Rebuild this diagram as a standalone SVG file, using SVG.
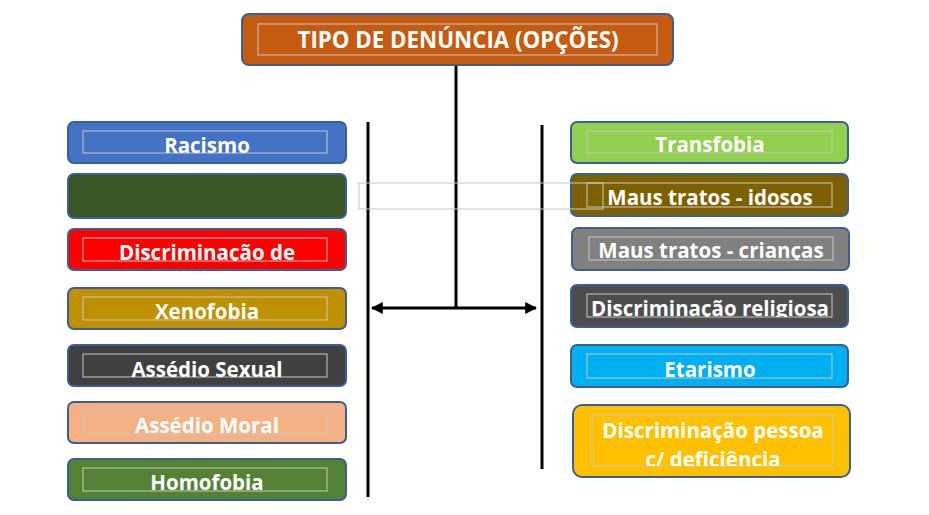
<svg xmlns="http://www.w3.org/2000/svg" width="929" height="515" viewBox="0 0 929 515">
<defs>
<style>
.box{stroke:#3A5E96;stroke-width:2}
.frame{fill:none;stroke:#C8C8C8;stroke-width:1}
.lbl{font-family:"Open Sans","Noto Sans","DejaVu Sans",sans-serif;font-weight:bold;font-size:20.5px;fill:#FFFFFF;text-anchor:middle}
.ln{stroke:#000;stroke-width:3;fill:none}
</style>
<marker id="ah" viewBox="0 0 10 10" refX="9" refY="5" markerWidth="4" markerHeight="4" orient="auto-start-reverse" markerUnits="strokeWidth">
<path d="M0,0 L10,5 L0,10 z" fill="#000"/>
</marker>
<clipPath id="c1"><rect x="83" y="131" width="244" height="22"/></clipPath>
<clipPath id="c3"><rect x="83" y="238" width="244" height="23"/></clipPath>
<clipPath id="c4"><rect x="83" y="297" width="244" height="23"/></clipPath>
<clipPath id="c5"><rect x="83" y="354" width="244" height="23"/></clipPath>
<clipPath id="c6"><rect x="83" y="411" width="244" height="23"/></clipPath>
<clipPath id="c7"><rect x="83" y="468" width="244" height="23"/></clipPath>
<clipPath id="r1"><rect x="587" y="131" width="245" height="22"/></clipPath>
<clipPath id="r2"><rect x="587" y="183" width="245" height="24"/></clipPath>
<clipPath id="r3"><rect x="589" y="237" width="244" height="23"/></clipPath>
<clipPath id="r4"><rect x="587" y="294" width="245" height="23"/></clipPath>
<clipPath id="r5"><rect x="587" y="354" width="245" height="24"/></clipPath>
<clipPath id="r6"><rect x="592" y="415" width="241" height="51"/></clipPath>
</defs>
<rect width="929" height="515" fill="#FFFFFF"/>

<g id="connectors">
<line class="ln" x1="456" y1="65" x2="456" y2="308"/>
<line class="ln" x1="368" y1="122" x2="368" y2="497"/>
<line class="ln" x1="542" y1="125" x2="542" y2="469"/>
<line class="ln" x1="372" y1="308" x2="536" y2="308" marker-start="url(#ah)" marker-end="url(#ah)"/>
</g>

<g id="title">
<rect class="box" x="242" y="14" width="431" height="51" rx="7" fill="#C55A11"/>
<rect class="frame" x="258" y="24" width="399" height="31"/>
<text class="lbl" x="458" y="48" style="font-size:22.3px">TIPO DE DENÚNCIA (OPÇÕES)</text>
</g>

<g id="racismo">
<rect class="box" x="68" y="122" width="278" height="41" rx="6" fill="#4472C4"/>
<rect class="frame" x="83" y="131" width="244" height="22"/>
<text class="lbl" x="207" y="153" clip-path="url(#c1)">Racismo</text>
</g>

<g id="verde">
<rect class="box" x="68" y="174" width="278" height="44" rx="6" fill="#375623"/>
</g>

<g id="discriminacao-de">
<rect class="box" x="68" y="229" width="278" height="41" rx="6" fill="#FF0000"/>
<rect class="frame" x="83" y="238" width="244" height="23"/>
<text class="lbl" x="207" y="260" clip-path="url(#c3)">Discriminação de</text>
</g>

<g id="xenofobia">
<rect class="box" x="68" y="288" width="278" height="41" rx="6" fill="#BF9000"/>
<rect class="frame" x="83" y="297" width="244" height="23"/>
<text class="lbl" x="207" y="319" clip-path="url(#c4)">Xenofobia</text>
</g>

<g id="assedio-sexual">
<rect class="box" x="68" y="345" width="278" height="41" rx="6" fill="#404040"/>
<rect class="frame" x="83" y="354" width="244" height="23"/>
<text class="lbl" x="207" y="377" clip-path="url(#c5)">Assédio Sexual</text>
</g>

<g id="assedio-moral">
<rect class="box" x="68" y="402" width="278" height="41" rx="6" fill="#F4B183"/>
<rect class="frame" x="83" y="411" width="244" height="23"/>
<text class="lbl" x="207" y="433" clip-path="url(#c6)">Assédio Moral</text>
</g>

<g id="homofobia">
<rect class="box" x="68" y="459" width="278" height="41" rx="6" fill="#548235"/>
<rect class="frame" x="83" y="468" width="244" height="23"/>
<text class="lbl" x="207" y="490" clip-path="url(#c7)">Homofobia</text>
</g>

<g id="transfobia">
<rect class="box" x="571" y="122" width="277" height="41" rx="6" fill="#92D050"/>
<rect class="frame" x="587" y="131" width="245" height="22"/>
<text class="lbl" x="710" y="152" clip-path="url(#r1)">Transfobia</text>
</g>

<g id="maus-tratos-idosos">
<rect class="box" x="571" y="174" width="277" height="42" rx="6" fill="#7F6000"/>
<rect class="frame" x="587" y="183" width="245" height="24"/>
<text class="lbl" x="710" y="205" clip-path="url(#r2)">Maus tratos - idosos</text>
</g>

<g id="moldura-solta">
<rect class="frame" x="359" y="183" width="244" height="26"/>
</g>

<g id="maus-tratos-criancas">
<rect class="box" x="572" y="228" width="277" height="42" rx="6" fill="#808080"/>
<rect class="frame" x="589" y="237" width="244" height="23"/>
<text class="lbl" x="711" y="258" clip-path="url(#r3)">Maus tratos - crianças</text>
</g>

<g id="discriminacao-religiosa">
<rect class="box" x="571" y="285" width="277" height="42" rx="6" fill="#4D4D4D"/>
<rect class="frame" x="587" y="294" width="245" height="23"/>
<text class="lbl" x="710" y="316" clip-path="url(#r4)">Discriminação religiosa</text>
</g>

<g id="etarismo">
<rect class="box" x="571" y="345" width="277" height="42" rx="6" fill="#00B0F0"/>
<rect class="frame" x="587" y="354" width="245" height="24"/>
<text class="lbl" x="710" y="377" clip-path="url(#r5)">Etarismo</text>
</g>

<g id="deficiencia">
<rect class="box" x="573" y="405" width="277" height="72" rx="9" fill="#FFC000"/>
<rect class="frame" x="592" y="415" width="241" height="51"/>
<text class="lbl" x="713" y="438" clip-path="url(#r6)">Discriminação pessoa</text>
<text class="lbl" x="713" y="467" clip-path="url(#r6)">c/ deficiência</text>
</g>
</svg>
